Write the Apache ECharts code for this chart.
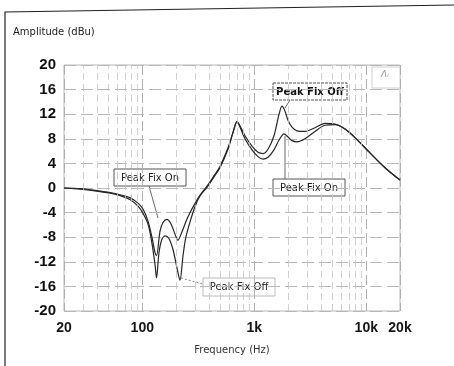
<!DOCTYPE html>
<html>
<head>
<meta charset="utf-8">
<script src="https://cdn.jsdelivr.net/npm/echarts@6/dist/echarts.min.js"></script>
<style>html,body{margin:0;padding:0;background:#fff}#c{width:454px;height:366px}</style>
</head>
<body>
<div id="c"></div>
<script>
// Frequencies (Hz) and amplitudes (dBu)
var freqOn  = [20, 28, 42, 57, 78, 92, 102, 113, 122, 130, 134, 144, 153, 166, 180, 196, 208, 222, 245, 267, 296, 327, 378, 437, 494, 582, 645, 701, 761, 826, 954, 1079, 1196, 1325, 1500, 1664, 1842, 2000, 2171, 2406, 2836, 3482, 4277, 5262, 6458, 7928, 10793, 14690, 20000];
var ampOn   = [0, -0.1, -0.5, -0.9, -1.6, -2.5, -3.5, -5.5, -8, -10.5, -11, -7, -5.6, -5.1, -5.8, -7.5, -8.5, -7.5, -5.5, -4, -2.5, -1.2, 0.3, 2, 3.5, 6.5, 9, 10.8, 9.5, 8, 6.2, 5.1, 4.7, 5, 6.2, 7.8, 8.8, 8.3, 7.7, 7.5, 8, 9.2, 10.2, 10.3, 9.6, 8.2, 5.7, 3.3, 1.3];
var freqOff = [20, 28, 42, 57, 78, 92, 102, 113, 122, 130, 134, 141, 150, 160, 173, 188, 204, 217, 231, 245, 267, 296, 327, 378, 437, 494, 582, 645, 701, 761, 826, 954, 1079, 1196, 1325, 1500, 1664, 1767, 1880, 2000, 2171, 2406, 2836, 3482, 4277, 5262, 6458, 7928, 10793, 14690, 20000];
var ampOff  = [0, -0.2, -0.6, -1.0, -1.9, -3, -4.2, -6, -9, -12.5, -14.6, -10.5, -8.3, -7.8, -8.2, -10, -13, -15, -11, -8, -5.5, -3, -1.3, 0.1, 1.8, 3.3, 6.3, 9, 10.8, 9.8, 8.5, 6.8, 5.8, 5.6, 6.3, 8.5, 12, 13.3, 12.5, 11, 9.9, 9.3, 9.2, 9.8, 10.5, 10.4, 9.6, 8.2, 5.7, 3.3, 1.3];
var gridFreqs = [30, 40, 50, 60, 70, 80, 90, 200, 300, 400, 500, 600, 700, 800, 900, 2000, 3000, 4000, 5000, 6000, 7000, 8000, 9000];
var yTicks = {min: -20, max: 20, step: 4};
var xRange = {min: 20, max: 20000};

function pairs(f, a) { return f.map(function (v, i) { return [v, a[i]]; }); }

var chart = echarts.init(document.getElementById('c'), null, {renderer: 'canvas'});
var lineCol = '#262626';
chart.setOption({
  animation: false,
  backgroundColor: '#ffffff',
  grid: {left: 64, right: 54, top: 65, bottom: 55, show: true, borderColor: '#b8b8b8', borderWidth: 1},
  xAxis: {
    type: 'log', logBase: 10, min: xRange.min, max: xRange.max,
    axisLine: {show: false},
    axisTick: {show: false},
    splitLine: {show: true, lineStyle: {color: '#b0b0b0', width: 1, type: [10, 4]}},
    axisLabel: {
      margin: 10, color: '#151515', fontSize: 14, fontWeight: 'bold', fontFamily: 'Liberation Sans, Arial, sans-serif',
      formatter: function (v) { v = Math.round(v); return v >= 1000 ? (v / 1000) + 'k' : String(v); }
    },
    name: 'Frequency (Hz)', nameLocation: 'middle', nameGap: 34,
    nameTextStyle: {color: '#333', fontSize: 10, fontFamily: 'DejaVu Sans, sans-serif'}
  },
  yAxis: {
    type: 'value', min: yTicks.min, max: yTicks.max, interval: yTicks.step,
    axisLine: {show: false},
    axisTick: {show: false},
    splitLine: {show: true, lineStyle: {color: '#b8b8b8', width: 1, type: [12, 5]}},
    axisLabel: {margin: 8, color: '#111', fontSize: 15, fontWeight: 'bold', fontFamily: 'Liberation Sans, Arial, sans-serif'}
  },
  series: [
    {
      name: 'Peak Fix On', type: 'line', data: pairs(freqOn, ampOn),
      symbol: 'none', smooth: 0.3,
      lineStyle: {color: lineCol, width: 1.2},
      markLine: {
        silent: true, symbol: 'none', label: {show: false},
        lineStyle: {color: '#c4c4c4', width: 0.8, type: [7, 4]},
        data: gridFreqs.map(function (f) { return {xAxis: f}; })
      }
    },
    {
      name: 'Peak Fix Off', type: 'line', data: pairs(freqOff, ampOff),
      symbol: 'none', smooth: 0.3,
      lineStyle: {color: lineCol, width: 1.2}
    }
  ],
  graphic: [
    {type: 'polyline', shape: {points: [[5, 366], [5, 12], [454, 5]]}, style: {stroke: '#222', lineWidth: 1.2, fill: null}},
    {type: 'text', left: 13, top: 27, style: {text: 'Amplitude (dBu)', fill: '#222', font: '10px DejaVu Sans, sans-serif'}},
    {type: 'rect', shape: {x: 372, y: 67, width: 28, height: 21}, style: {stroke: '#cfcfcf', fill: '#fff', lineWidth: 1}},
    {type: 'text', x: 381, y: 70, style: {text: 'Λᵢ', fill: '#999', font: 'italic 9px DejaVu Sans, sans-serif'}},
    // Peak Fix On (left)
    {type: 'line', shape: {x1: 149, y1: 186, x2: 158, y2: 218}, style: {stroke: '#444', lineWidth: 0.8}},
    {type: 'rect', shape: {x: 114, y: 169, width: 72, height: 17}, style: {stroke: '#555', fill: '#fff', lineWidth: 1}},
    {type: 'text', x: 150, y: 178, style: {text: 'Peak Fix On', fill: '#222', font: '10px DejaVu Sans, sans-serif', textAlign: 'center', textVerticalAlign: 'middle'}},
    // Peak Fix Off (top)
    {type: 'line', shape: {x1: 290, y1: 100, x2: 285, y2: 108}, style: {stroke: '#444', lineWidth: 0.8}},
    {type: 'rect', shape: {x: 273, y: 83, width: 74, height: 17}, style: {stroke: '#555', fill: '#fff', lineWidth: 1, lineDash: [3, 1]}},
    {type: 'text', x: 310, y: 92, style: {text: 'Peak Fix Off', fill: '#111', font: 'bold 10px DejaVu Sans, sans-serif', textAlign: 'center', textVerticalAlign: 'middle'}},
    // Peak Fix On (right)
    {type: 'line', shape: {x1: 285, y1: 136, x2: 285, y2: 179}, style: {stroke: '#444', lineWidth: 0.8}},
    {type: 'rect', shape: {x: 273, y: 179, width: 72, height: 17}, style: {stroke: '#555', fill: '#fff', lineWidth: 1}},
    {type: 'text', x: 309, y: 188, style: {text: 'Peak Fix On', fill: '#222', font: '10px DejaVu Sans, sans-serif', textAlign: 'center', textVerticalAlign: 'middle'}},
    // Peak Fix Off (bottom)
    {type: 'line', shape: {x1: 181, y1: 278, x2: 203, y2: 284}, style: {stroke: '#666', lineWidth: 0.8, lineDash: [2, 2]}},
    {type: 'rect', shape: {x: 203, y: 278, width: 72, height: 18}, style: {stroke: '#aaa', fill: '#fff', lineWidth: 0.8}},
    {type: 'text', x: 239, y: 287, style: {text: 'Peak Fix Off', fill: '#222', font: '10px DejaVu Sans, sans-serif', textAlign: 'center', textVerticalAlign: 'middle'}}
  ]
});
</script>
</body>
</html>
